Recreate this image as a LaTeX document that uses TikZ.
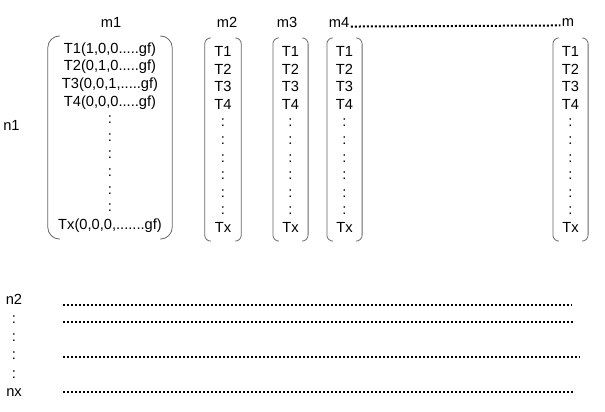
\documentclass[tikz,border=0pt]{standalone}
\usepackage{fontspec}
\setmainfont{Liberation Sans}
\usetikzlibrary{positioning}

\tikzset{
  lbl/.style={font=\fontsize{11}{12}\selectfont, inner sep=0pt},
  col/.style={align=center, inner sep=0pt, font=\fontsize{11}{13.2}\selectfont,
    minimum height=152pt},
  brk/.style={draw=black!60, line width=0.6pt, rounded corners=#1},
  brk/.default=4.5pt,
  dotrow/.style={line width=1.5pt, dash pattern=on 1.5pt off 1.5pt},
}

\begin{document}
\begin{tikzpicture}[x=0.75pt, y=-0.75pt]

  \useasboundingbox (0,0) rectangle (605,411);

  % Columns
  \node[col, minimum width=93pt] (c1) at (110,137.5)
    {T1(1,0,0.....gf)\\T2(0,1,0.....gf)\\T3(0,0,1,.....gf)\\T4(0,0,0.....gf)\\
     :\\:\\:\\:\\:\\:\\Tx(0,0,0,.......gf)} ; %
  \node[col, minimum width=27pt] (c2) at (223,139.5)
    {T1\\T2\\T3\\T4\\:\\:\\:\\:\\:\\:\\Tx} ; %
  \node[col, minimum width=26pt] (c3) at (290.5,139.5)
    {T1\\T2\\T3\\T4\\:\\:\\:\\:\\:\\:\\Tx} ; %
  \node[col, minimum width=26pt] (c4) at (344.5,139.5)
    {T1\\T2\\T3\\T4\\:\\:\\:\\:\\:\\:\\Tx} ; %
  \node[col, minimum width=26pt] (cm) at (570.5,139.5)
    {T1\\T2\\T3\\T4\\:\\:\\:\\:\\:\\:\\Tx} ; %

  % Column headers
  \node[lbl] (m1) at (111,22.5) {m1} ; %
  \node[lbl] (m2) at (227,22.5) {m2} ; %
  \node[lbl] (m3) at (287,22.5) {m3} ; %
  \node[lbl] (m4) at (339,22.5) {m4} ; %
  \node[lbl] (m)  at (568,22.5) {m} ; %
  \draw[dotrow] ([xshift=1pt,yshift=0.75pt]m4.base east)
    -- ([xshift=-1pt,yshift=0.75pt]m.base west) ;

  % Brackets
  \draw[brk=9pt] ([xshift=9pt]c1.north west) -- (c1.north west)
    -- (c1.south west) -- ([xshift=9pt]c1.south west) ;
  \draw[brk=9pt] ([xshift=-9pt]c1.north east) -- (c1.north east)
    -- (c1.south east) -- ([xshift=-9pt]c1.south east) ;
  \foreach \c in {c2,c3,c4,cm} {
    \draw[brk] ([xshift=4.5pt]\c.north west) -- (\c.north west)
      -- (\c.south west) -- ([xshift=4.5pt]\c.south west) ;
    \draw[brk] ([xshift=-4.5pt]\c.north east) -- (\c.north east)
      -- (\c.south east) -- ([xshift=-4.5pt]\c.south east) ;
  }

  % Rows
  \node[lbl] (n1) at (11.5,125) {n1} ; %
  \node[col, font=\fontsize{11}{13.7}\selectfont, minimum height=0pt]
    (nx) at (14,345.5) {n2\\:\\:\\:\\:\\nx} ; %

  \coordinate (r1a) at (63,305) ;  \coordinate (r1b) at (572,305) ;
  \coordinate (r2a) at (63,322) ;  \coordinate (r2b) at (575,322) ;
  \coordinate (r3a) at (63,357) ;  \coordinate (r3b) at (580,357) ;
  \coordinate (r4a) at (63,392) ;  \coordinate (r4b) at (575,392) ;
  \draw[dotrow] (r1a) -- (r1b) ;
  \draw[dotrow] (r2a) -- (r2b) ;
  \draw[dotrow] (r3a) -- (r3b) ;
  \draw[dotrow] (r4a) -- (r4b) ;

\end{tikzpicture}
\end{document}
